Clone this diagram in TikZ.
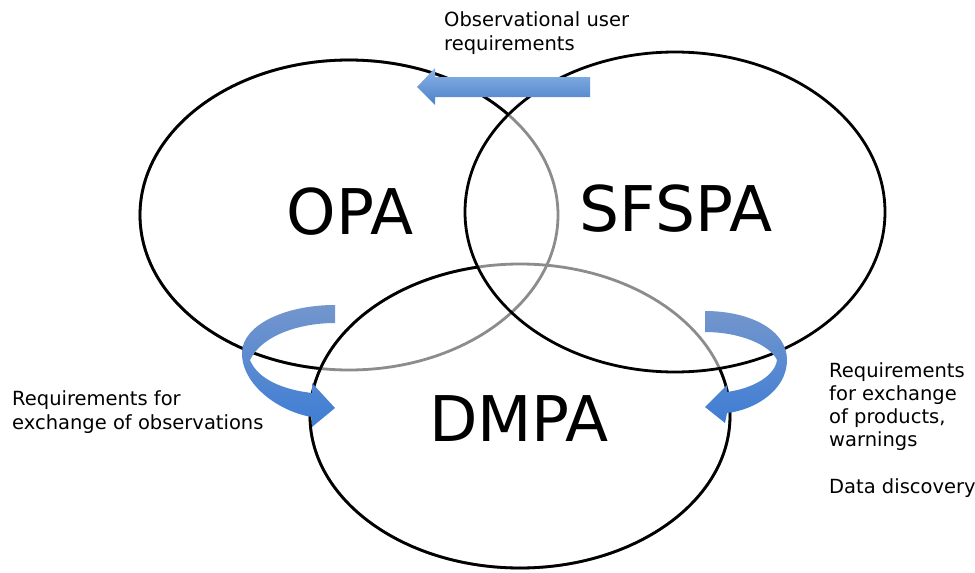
\documentclass[tikz,border=0pt]{standalone}
\usepackage{fontspec}
\setmainfont{DejaVu Sans}
\definecolor{arrlight}{RGB}{140,180,232}
\definecolor{arrdark}{RGB}{75,128,200}
\definecolor{ribtop}{RGB}{115,150,205}
\definecolor{ribbot}{RGB}{62,125,212}
\definecolor{ringgray}{RGB}{140,140,140}
\tikzset{
  ring/.style={line width=2.8pt},
  graying/.style={line width=2.8pt, draw=ringgray},
  biglabel/.style={font=\fontsize{63}{63}\selectfont, inner sep=0pt, anchor=base},
  note/.style={font=\fontsize{19.5}{23.2}\selectfont, align=left, inner sep=0pt, anchor=base west},
  toparrow/.style={top color=arrlight, bottom color=arrdark, draw=none},
  ribbon/.style={top color=ribtop, bottom color=ribbot, draw=none}
}
\begin{document}
\begin{tikzpicture}[x=1pt,y=-1pt]
\useasboundingbox (0,0) rectangle (975,573);
\fill[white] (0,0) rectangle (975,573);

% OPA ring (lowest layer)
\draw[graying] (349,215) ellipse (209pt and 155pt);
\begin{scope}[even odd rule]
  \clip (0,0) rectangle (975,573) (520,416) ellipse (210pt and 152pt);
  \clip (0,0) rectangle (975,573) (675,212) ellipse (210pt and 160pt);
  \draw[ring] (349,215) ellipse (209pt and 155pt);
\end{scope}

% DMPA ring (middle layer)
\draw[graying] (520,416) ellipse (210pt and 152pt);
\begin{scope}[even odd rule]
  \clip (0,0) rectangle (975,573) (675,212) ellipse (210pt and 160pt);
  \draw[ring] (520,416) ellipse (210pt and 152pt);
\end{scope}

% SFSPA ring (top layer)
\draw[ring] (675,212) ellipse (210pt and 160pt);

% labels
\node[biglabel] (opa) at (350,234) {OPA};
\node[biglabel] (sfspa) at (676,231) {SFSPA};
\node[biglabel] (dmpa) at (519,441) {DMPA};

% top block arrow
\shade[toparrow] (590,77) -- (435,77) -- (435,68) -- (417,87) -- (435,105) -- (435,97) -- (590,97) -- cycle;

% left curved arrow
\shade[ribbon] (335,305) .. controls (285,305) and (243,325) .. (242,352)
  .. controls (241,385) and (280,412) .. (312,417) -- (312,427) -- (335,408) -- (312,383) -- (312,393)
  .. controls (285,390) and (258,380) .. (250,360)
  .. controls (262,335) and (300,323) .. (335,323) -- cycle;

% right curved arrow
\shade[ribbon] (705,311) .. controls (750,311) and (787,330) .. (787,360)
  .. controls (787,390) and (755,410) .. (727,413) -- (725,423) -- (705,407) -- (727,385) -- (727,392)
  .. controls (755,388) and (775,375) .. (777,360)
  .. controls (770,345) and (740,332) .. (705,332) -- cycle;

% texts (anchored at the baseline of the last line)
\node[note] (obsreq) at (444,50) {Observational user\\requirements};
\node[note] (excobs) at (12,429) {Requirements for\\exchange of observations};
\node[note] (excprod) at (829,493) {Requirements\\for exchange\\of products,\\warnings\\[23.2pt]Data discovery};
\end{tikzpicture}
\end{document}
